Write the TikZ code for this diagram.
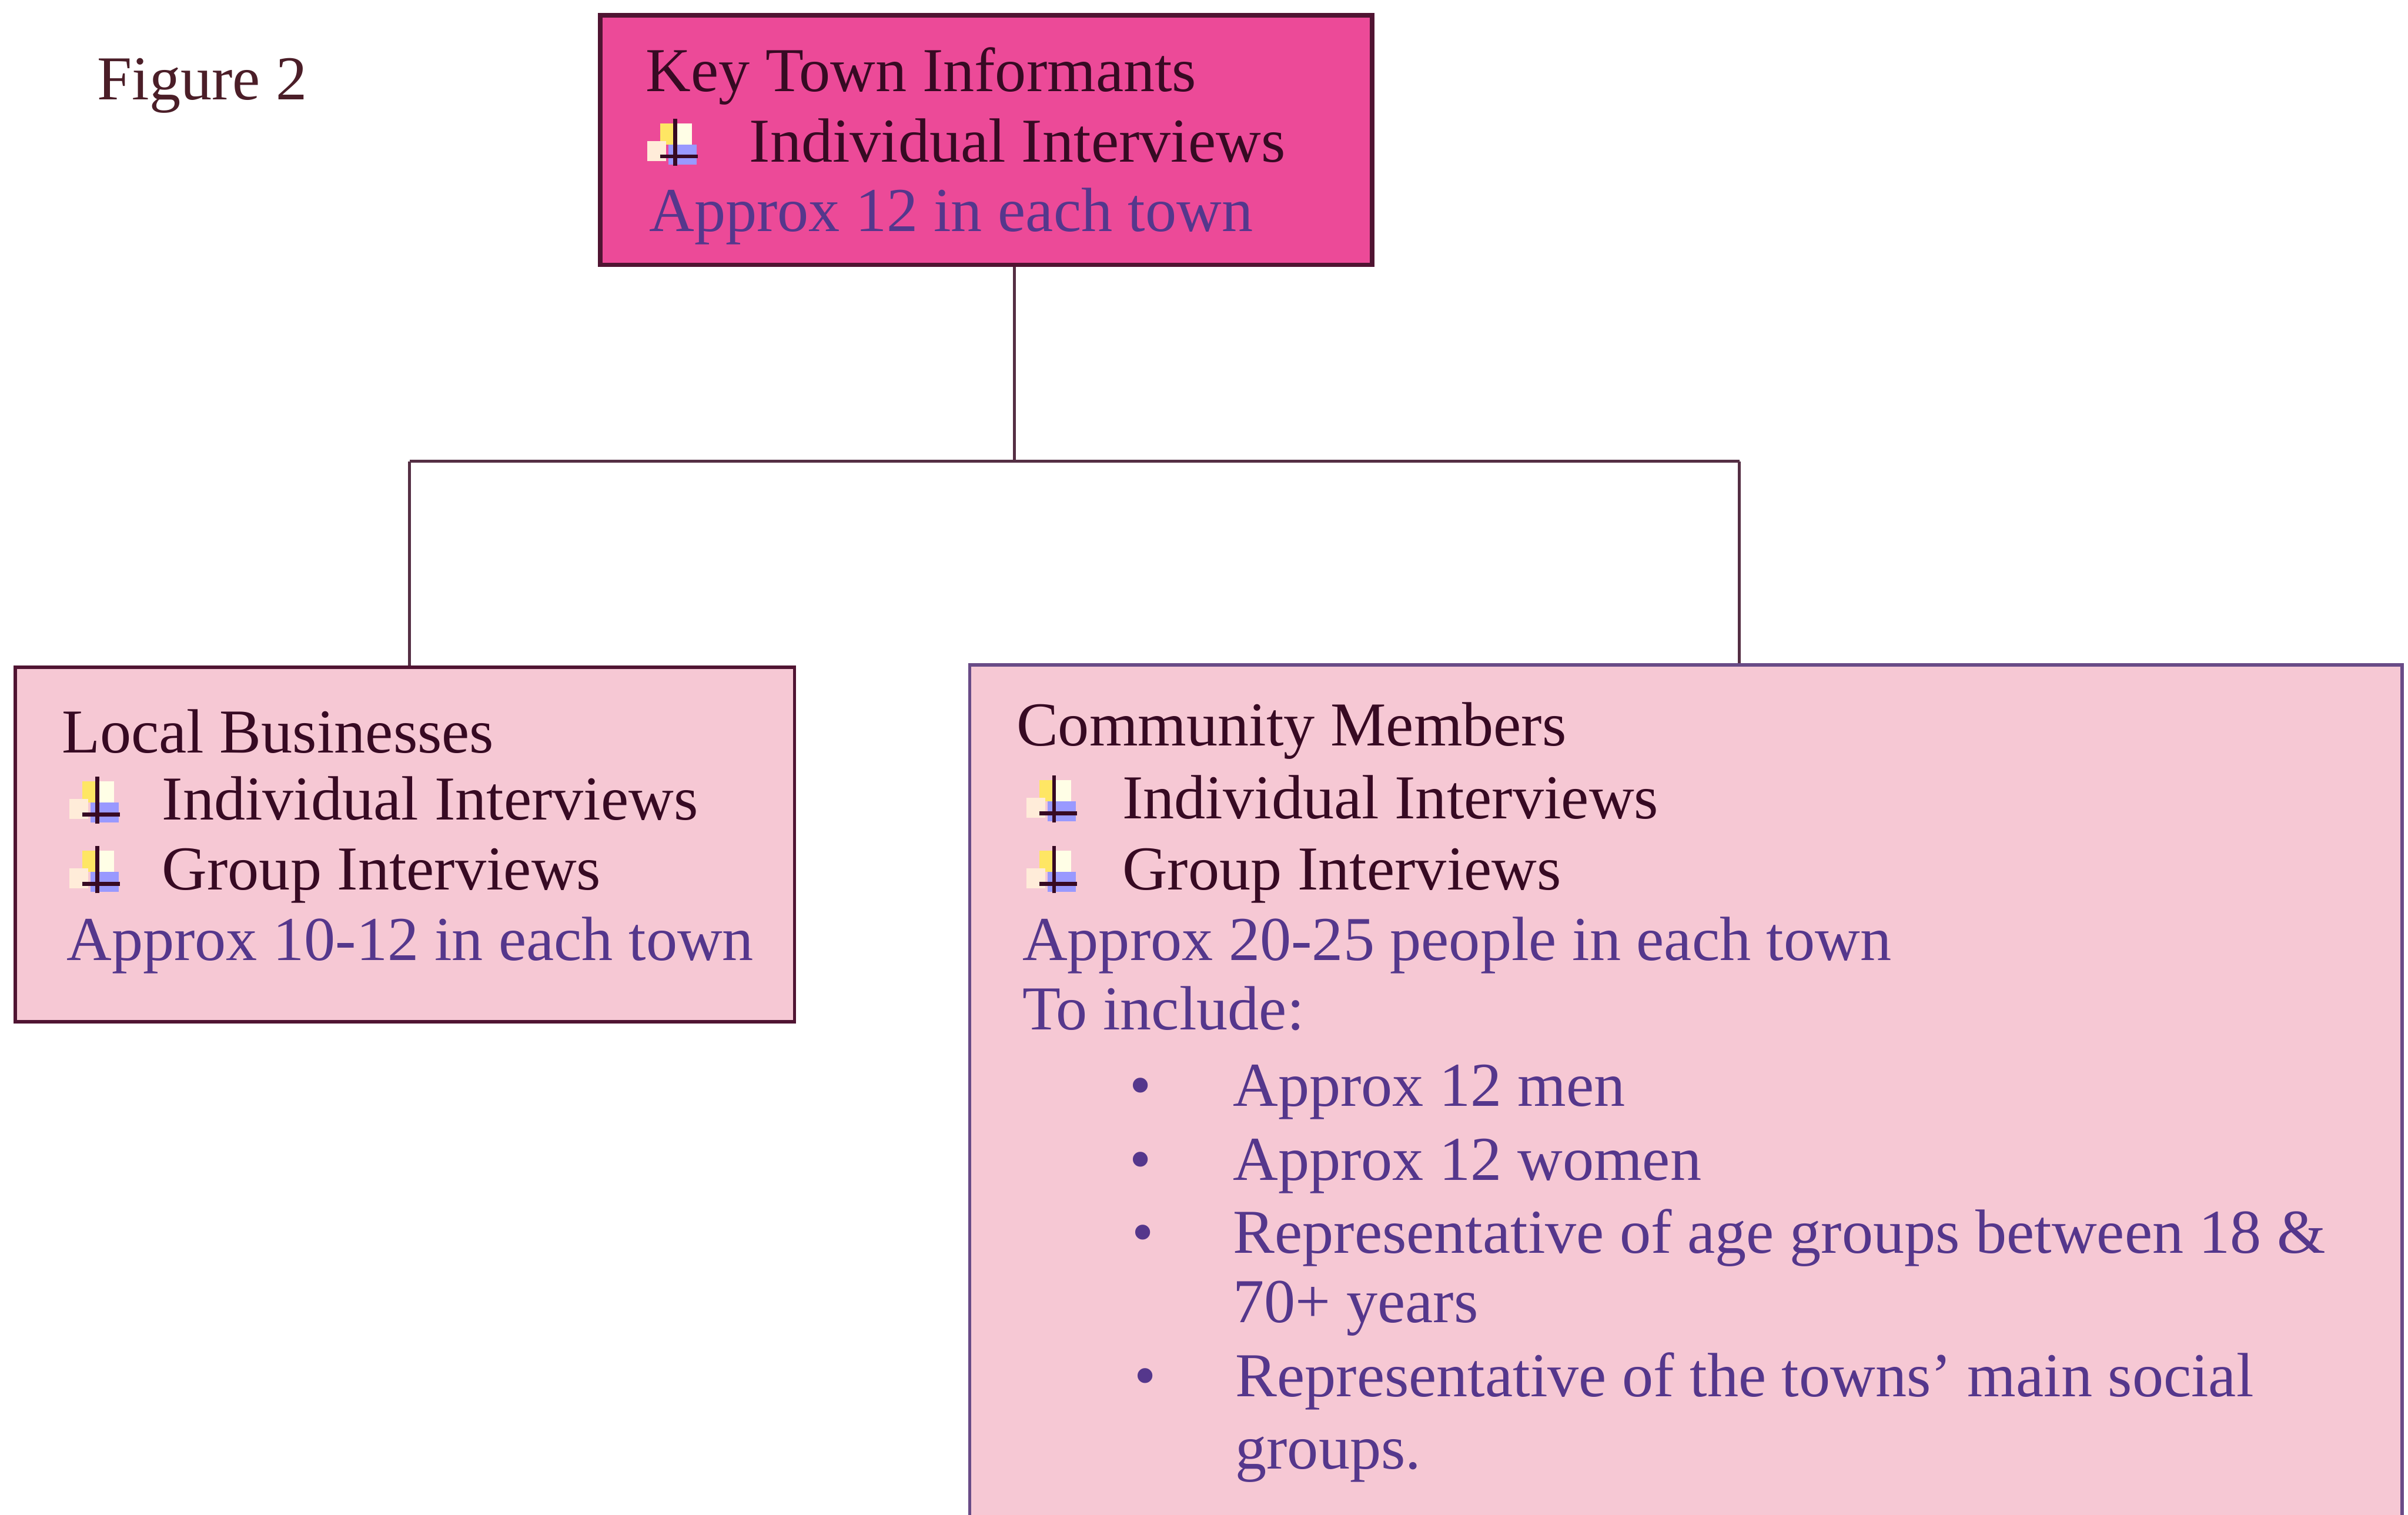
\documentclass[tikz,border=0pt]{standalone}
\usepackage{fontspec}
\setmainfont{Liberation Serif}
\usetikzlibrary{positioning}

\definecolor{keypink}{RGB}{236,74,152}
\definecolor{softpink}{RGB}{246,200,212}
\definecolor{boxline}{RGB}{80,20,50}
\definecolor{commline}{RGB}{105,75,135}
\definecolor{darktext}{RGB}{55,10,35}
\definecolor{approxtext}{RGB}{85,55,140}
\definecolor{figtext}{RGB}{75,30,40}

\tikzset{
  keybox/.style={draw=boxline, line width=1.1pt, fill=keypink, minimum width=6.56cm, minimum height=2.12cm},
  lowbox/.style={draw=boxline, line width=0.8pt, fill=softpink},
  link/.style={draw=darktext!85, line width=0.7pt},
  lbl/.style={anchor=west, inner sep=0pt, text height=0.7em, text depth=0.2em,
    font=\fontsize{15.1}{18}\selectfont, text=darktext},
  approx/.style={text=approxtext},
  wingflag/.pic={
    \fill[yellow!75!orange!60] (0.11,0.18) rectangle (0.23,0.36);
    \fill[yellow!10] (0.24,0.18) rectangle (0.38,0.36);
    \fill[orange!15] (0,0.04) rectangle (0.16,0.21);
    \fill[blue!40!white] (0.18,0.01) rectangle (0.42,0.18);
    \draw[darktext, line width=0.9pt] (0.237,0) -- (0.237,0.40);
    \draw[darktext, line width=0.9pt] (0.11,0.08) -- (0.43,0.08);
  }
}

\begin{document}
\begin{tikzpicture}
  \useasboundingbox (0,0) rectangle (20.46,12.87);
  \clip (0,0) rectangle (20.46,12.87);

  \node[lbl, text=figtext] (fig) at (0.82,12.11) {Figure 2};

  % top box
  \node[keybox] (key) at (8.38,11.68) {};
  \node[lbl] (keyhead) at (5.48,12.18) {Key Town Informants};
  \pic at (5.50,11.46) {wingflag};
  \node[lbl] (keyind) at (6.36,11.58) {Individual Interviews};
  \node[lbl, approx] (keynum) at (5.51,10.99) {Approx 12 in each town};

  % local businesses
  \node[lowbox, minimum width=6.62cm, minimum height=3.01cm] (biz) at (3.44,5.695) {};
  \node[lbl] (bizhead) at (0.52,6.56) {Local Businesses};
  \pic at (0.59,5.87) {wingflag};
  \node[lbl] (bizind) at (1.37,5.99) {Individual Interviews};
  \pic at (0.59,5.28) {wingflag};
  \node[lbl] (bizgrp) at (1.37,5.40) {Group Interviews};
  \node[lbl, approx] (biznum) at (0.56,4.80) {Approx 10-12 in each town};

  % community members
  \node[lowbox, draw=commline, minimum width=12.17cm, minimum height=7.82cm] (comm) at (14.325,3.31) {};
  \node[lbl] (commhead) at (8.63,6.62) {Community Members};
  \pic at (8.72,5.88) {wingflag};
  \node[lbl] (commind) at (9.53,6.00) {Individual Interviews};
  \pic at (8.72,5.28) {wingflag};
  \node[lbl] (commgrp) at (9.53,5.40) {Group Interviews};
  \node[lbl, approx] (commnum) at (8.68,4.80) {Approx 20-25 people in each town};
  \node[lbl, approx] (incl) at (8.68,4.21) {To include:};
  \node[lbl, approx] (dota) at (9.59,3.56) {\textbullet};
  \node[lbl, approx] (men) at (10.47,3.56) {Approx 12 men};
  \node[lbl, approx] (dotb) at (9.59,2.93) {\textbullet};
  \node[lbl, approx] (women) at (10.47,2.93) {Approx 12 women};
  \node[lbl, approx] (dotc) at (9.61,2.31) {\textbullet};
  \node[lbl, approx] (ages) at (10.47,2.31) {Representative of age groups between 18 \&};
  \node[lbl, approx] (agesb) at (10.47,1.72) {70+ years};
  \node[lbl, approx] (dotd) at (9.63,1.09) {\textbullet};
  \node[lbl, approx] (social) at (10.49,1.09) {Representative of the towns’ main social};
  \node[lbl, approx] (socialb) at (10.49,0.48) {groups.};

  % connectors
  \coordinate (jm) at (8.62,8.95);
  \coordinate (jl) at (3.48,8.95);
  \coordinate (jr) at (14.78,8.95);
  \draw[link] (jm |- key.south) -- (jm);
  \draw[link] (jl) -- (jr);
  \draw[link] (jl) -- (jl |- biz.north);
  \draw[link] (jr) -- (jr |- comm.north);
\end{tikzpicture}
\end{document}
